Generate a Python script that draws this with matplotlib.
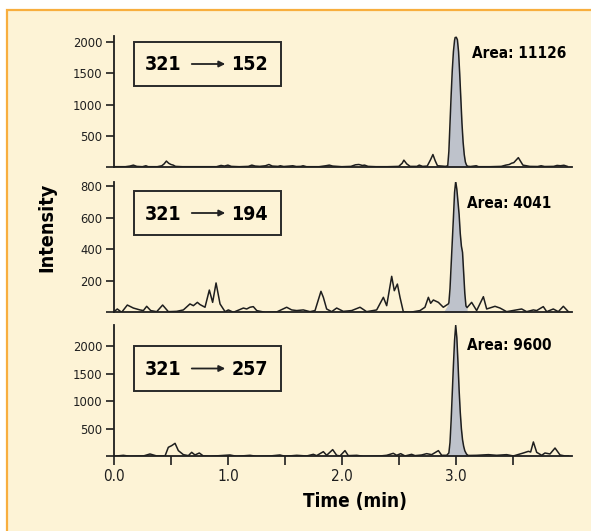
import os
import numpy as np
import matplotlib
matplotlib.use("Agg")
import matplotlib.pyplot as plt
from matplotlib.patches import Rectangle, FancyArrowPatch
from matplotlib import font_manager as fm

# ---------------- data ----------------
t1 = [0.00, 0.10, 0.14, 0.17, 0.20, 0.25, 0.28, 0.30, 0.38, 0.42, 0.44, 0.46, 0.48, 0.50, 0.52, 0.54,
      0.60, 0.75, 0.90, 0.94, 0.97, 1.00, 1.03, 1.10, 1.18, 1.21, 1.24, 1.28, 1.33, 1.36, 1.39, 1.44,
      1.46, 1.49, 1.54, 1.57, 1.60, 1.64, 1.66, 1.69, 1.80, 1.86, 1.89, 1.92, 2.00, 2.08, 2.12, 2.15,
      2.18, 2.20, 2.23, 2.30, 2.40, 2.50, 2.53, 2.545, 2.57, 2.60, 2.66, 2.68, 2.71, 2.75, 2.78, 2.80,
      2.82, 2.84, 2.88, 2.91,
      2.93, 2.94, 2.95, 2.96, 2.97, 2.98, 2.99, 2.995, 3.005, 3.015, 3.025, 3.035, 3.045, 3.055,
      3.065, 3.075, 3.085, 3.095, 3.105,
      3.13, 3.18, 3.20, 3.30, 3.40, 3.44, 3.47, 3.49, 3.51, 3.53, 3.55, 3.57, 3.59, 3.62, 3.65, 3.72,
      3.75, 3.78, 3.86, 3.89, 3.92, 3.95, 3.98]
i1 = [5, 5, 15, 30, 10, 5, 20, 5, 5, 20, 50, 95, 60, 40, 30, 10,
      5, 5, 5, 25, 15, 30, 10, 5, 10, 30, 15, 10, 20, 40, 15, 10,
      20, 8, 15, 20, 8, 10, 20, 5, 5, 20, 30, 15, 5, 10, 35, 40,
      25, 30, 10, 5, 5, 10, 60, 110, 50, 10, 10, 30, 10, 15, 120, 200,
      100, 20, 15, 10,
      20, 250, 700, 1150, 1550, 1850, 2030, 2075, 2080, 2040, 1850, 1500, 1100, 700,
      400, 200, 80, 30, 12,
      8, 20, 5, 5, 10, 30, 40, 60, 70, 110, 150, 90, 30, 20, 10, 8,
      20, 8, 10, 25, 20, 28, 10]

t2 = [0.00, 0.029, 0.067, 0.117, 0.170, 0.228, 0.258, 0.287, 0.322, 0.375, 0.427, 0.477, 0.550, 0.609,
      0.667, 0.697, 0.732, 0.755, 0.799, 0.837, 0.866, 0.896, 0.931, 0.975, 1.004, 1.048, 1.136, 1.165,
      1.194, 1.223, 1.253, 1.326, 1.428, 1.516, 1.560, 1.604, 1.662, 1.721, 1.765, 1.817, 1.838, 1.867,
      1.911, 1.955, 2.013, 2.087, 2.160, 2.218, 2.306, 2.365, 2.394, 2.438, 2.461, 2.488, 2.511, 2.540,
      2.599, 2.687, 2.730, 2.760, 2.780, 2.804, 2.848, 2.891, 2.935,
      2.94, 2.95, 2.96, 2.97, 2.98, 2.99, 3.00, 3.01, 3.02, 3.03, 3.04, 3.05, 3.06, 3.07, 3.08, 3.09,
      3.10,
      3.140, 3.184, 3.243, 3.272, 3.345, 3.389, 3.447, 3.579, 3.623, 3.682, 3.711, 3.769, 3.799, 3.857,
      3.901, 3.945, 3.989]
i2 = [4, 21, 0, 46, 27, 15, 11, 38, 11, 4, 46, 4, 6, 15,
      53, 42, 63, 49, 32, 141, 63, 186, 53, 4, 15, 0, 27, 21,
      32, 36, 11, 0, 2, 32, 15, 11, 15, 4, 11, 133, 95, 21,
      4, 27, 6, 11, 32, 4, 15, 95, 42, 228, 137, 179, 95, 4,
      0, 11, 32, 95, 57, 78, 63, 32, 53,
      60, 150, 300, 450, 600, 760, 830, 780, 700, 620, 500, 420, 380, 250, 120, 40,
      30,
      63, 11, 99, 21, 38, 27, 4, 21, 4, 15, 11, 36, 4, 21,
      4, 38, 4]

t3 = [0.00, 0.082, 0.140, 0.258, 0.316, 0.375, 0.448, 0.477, 0.506, 0.536, 0.565, 0.609, 0.653, 0.682,
      0.711, 0.749, 0.784, 0.843, 1.018, 1.077, 1.194, 1.253, 1.370, 1.457, 1.501, 1.604, 1.692, 1.750,
      1.779, 1.838, 1.867, 1.920, 1.955, 1.984, 2.028, 2.057, 2.131, 2.189, 2.335, 2.394, 2.452, 2.482,
      2.517, 2.555, 2.613, 2.643, 2.701, 2.745, 2.789, 2.848, 2.877, 2.921,
      2.94, 2.95, 2.96, 2.97, 2.98, 2.99, 3.00, 3.01, 3.02, 3.03, 3.04, 3.05, 3.06, 3.07, 3.08, 3.095,
      3.11,
      3.184, 3.287, 3.360, 3.447, 3.506, 3.594, 3.638, 3.658, 3.682, 3.711, 3.755, 3.784, 3.828, 3.872,
      3.916, 3.960, 3.99]
i3 = [0, 18, 0, 6, 42, 6, 6, 163, 193, 235, 103, 30, 12, 72,
      24, 60, 6, 0, 24, 0, 18, 0, 6, 24, 0, 18, 6, 36,
      12, 84, 18, 121, 18, 6, 103, 12, 18, 0, 6, 18, 54, 18,
      48, 6, 36, 12, 24, 48, 30, 103, 18, 18,
      60, 250, 650, 1150, 1650, 2100, 2375, 2150, 1700, 1200, 800, 500, 300, 180, 100, 40,
      15,
      18, 30, 18, 30, 6, 60, 90, 78, 260, 72, 18, 60, 42, 150,
      24, 6, 6]

transitions = ["152", "194", "257"]
areas = ["11126", "4041", "9600"]
ytick_sets = [[0, 500, 1000, 1500, 2000], [0, 200, 400, 600, 800], [0, 500, 1000, 1500, 2000]]
ylims = [2100, 828, 2380]
xtick_major = [0.0, 1.0, 2.0, 3.0]
xtick_labels = ["0.0", "1.0", "2.0", "3.0"]
xtick_minor = [0.5, 1.5, 2.5, 3.5]
peak_window = (2.925, 3.11)

# ---------------- fonts (condensed if available) ----------------
sys_fonts = fm.findSystemFonts()
def find_font(names):
    for n in names:
        for p in sys_fonts:
            if os.path.basename(p).lower() == n.lower():
                return p
    return None

reg_path = find_font(['LiberationSansNarrow-Regular.ttf', 'DejaVuSansCondensed.ttf'])
bold_path = find_font(['LiberationSansNarrow-Bold.ttf', 'DejaVuSansCondensed-Bold.ttf'])
condensed = reg_path is not None and bold_path is not None
if condensed:
    scale = 1.0 if 'DejaVu' in os.path.basename(bold_path) else 1.15
    def FP(size, bold=False):
        return fm.FontProperties(fname=bold_path if bold else reg_path, size=size * scale)
else:
    scale = 0.94
    def FP(size, bold=False):
        return fm.FontProperties(family=['Liberation Sans', 'DejaVu Sans'],
                                 weight='bold' if bold else 'normal', size=size * scale)

# ---------------- layout ----------------
W, H = 591, 531
fig = plt.figure(figsize=(W / 100, H / 100), dpi=100)
fig.patch.set_facecolor('white')

def fx(x):
    return x / W

def fy(y):
    return 1 - y / H

CREAM = '#FDF3D6'
ORANGE = '#F8AE3E'
INK = '#1E1E1E'
FILL = '#BEC2CB'

bg = Rectangle((fx(7), -0.2), 2, fy(10) + 0.2, transform=fig.transFigure,
               facecolor=CREAM, edgecolor=ORANGE, lw=1.6, zorder=-10)
fig.add_artist(bg)

panel_px = [(36, 167), (181.7, 312.3), (325, 456.3)]
left_px = 114
px_per_unit = 113.9
xmax = 4.02
series = [(t1, i1), (t2, i2), (t3, i3)]
box_px = [(42, 86), (191, 235), (346, 391)]
area_px = [(472, 54), (467, 203), (467, 346)]

for k in range(3):
    top, bot = panel_px[k]
    ax = fig.add_axes([fx(left_px), fy(bot), xmax * px_per_unit / W, (bot - top) / H])
    ax.set_facecolor('none')
    ax.set_zorder(1)
    t = np.array(series[k][0])
    v = np.array(series[k][1])
    m = (t >= peak_window[0]) & (t <= peak_window[1])
    ax.fill_between(t, 0, v, where=m, color=FILL, lw=0, interpolate=True)
    ax.plot(t, v, color=INK, lw=1.1, solid_joinstyle='round')
    ax.set_xlim(0, xmax)
    ax.set_ylim(0, ylims[k])
    for s in ['top', 'right']:
        ax.spines[s].set_visible(False)
    for s in ['left', 'bottom']:
        ax.spines[s].set_color(INK)
        ax.spines[s].set_linewidth(1.3)
    ax.set_yticks(ytick_sets[k])
    ax.set_yticklabels([''] + [str(y) for y in ytick_sets[k][1:]])
    ax.tick_params(axis='y', direction='out', length=6, width=1.2, color=INK,
                   pad=2.5, labelcolor=INK)
    for lbl in ax.get_yticklabels():
        lbl.set_fontproperties(FP(9.3))
    if k < 2:
        ax.set_xticks([])
    else:
        ax.set_xticks(xtick_major)
        ax.set_xticklabels(xtick_labels)
        ax.set_xticks(xtick_minor, minor=True)
        ax.tick_params(axis='x', which='both', direction='out', length=6.5, width=1.2,
                       color=INK, pad=3, labelcolor=INK)
        for lbl in ax.get_xticklabels():
            lbl.set_fontproperties(FP(11))

    # transition box
    bt, bb = box_px[k]
    fig.add_artist(Rectangle((fx(134), fy(bb)), (281 - 134) / W, (bb - bt) / H,
                             transform=fig.transFigure, facecolor='none',
                             edgecolor='#2a2a2a', lw=1.4, zorder=5))
    cy = (bt + bb) / 2
    fig.text(fx(145), fy(cy + 1), "321", fontproperties=FP(14, True), ha='left',
             va='center', color='black', zorder=6)
    fig.text(fx(268), fy(cy + 1), transitions[k], fontproperties=FP(14, True),
             ha='right', va='center', color='black', zorder=6)
    fig.add_artist(FancyArrowPatch(
        (fx(189), fy(cy)), (fx(228), fy(cy)), transform=fig.transFigure,
        arrowstyle='-|>', mutation_scale=9, lw=1.3, color='#222', zorder=6))
    ax_, ay_ = area_px[k]
    fig.text(fx(ax_), fy(ay_), "Area: " + areas[k], fontproperties=FP(11, True),
             ha='left', va='center', color='black', zorder=6)

fig.text(fx(47), fy(227), "Intensity", rotation=90, fontproperties=FP(14.2, True),
         ha='center', va='center', color='black')
fig.text(fx(355), fy(502), "Time (min)", fontproperties=FP(13.6, True),
         ha='center', va='center', color='black')

fig.savefig('out.png', dpi=100, facecolor='white')
